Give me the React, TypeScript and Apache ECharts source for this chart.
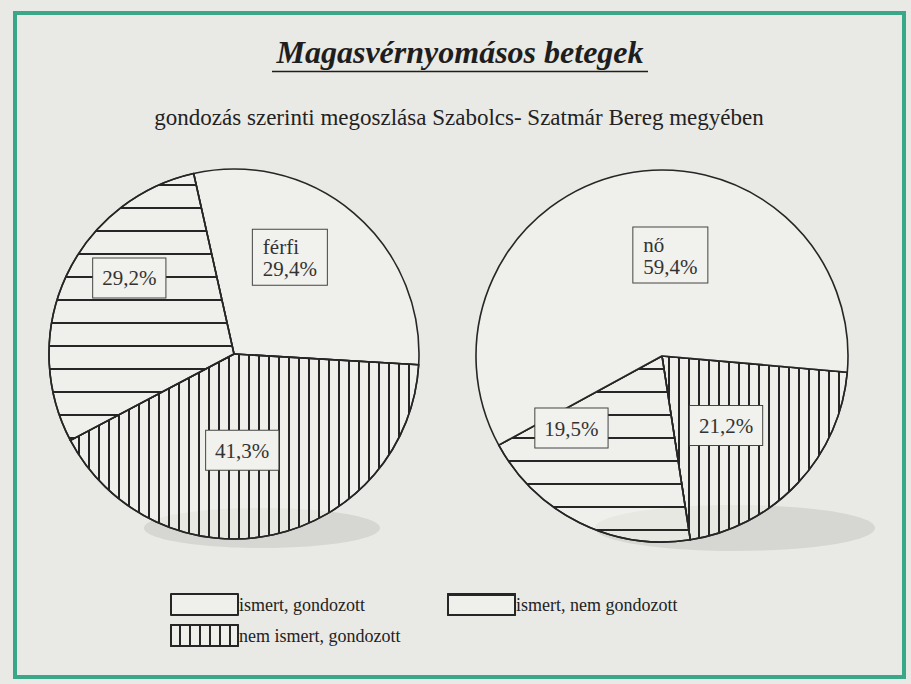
import React, { useEffect, useRef } from 'react';
import * as echarts from 'echarts';

// ---- data ----
const categories = ['ismert, gondozott', 'nem ismert, gondozott', 'ismert, nem gondozott'];
const ferfiValues = [29.4, 41.3, 29.2];
const noValues = [59.4, 21.2, 19.5];
const pieNames = ['férfi', 'nő'];
const titleText = 'Magasvérnyomásos betegek';
const subtitleText = 'gondozás szerinti megoszlása Szabolcs- Szatmár Bereg megyében';

// ---- styles ----
const BG = '#e9e9e5';
const FILL = 'rgba(243,243,239,0.6)';
const INK = '#262626';
const FONT = 'Liberation Serif, DejaVu Serif, serif';

const decals: Record<string, any> = {
  'ismert, gondozott': 'none',
  'nem ismert, gondozott': {
    symbol: 'rect', symbolSize: 1, color: INK,
    dashArrayX: [1, 0], dashArrayY: [1.6, 7.9], rotation: Math.PI / 2,
  },
  'ismert, nem gondozott': {
    symbol: 'rect', symbolSize: 1, color: INK,
    dashArrayX: [1, 0], dashArrayY: [2, 21],
  },
};

const fmt = (v: number) => v.toFixed(1).replace('.', ',') + '%';

// label offsets [series][category index]
const labelOffsets = [
  [[-6, -24], [-12, 3], [-18, -36]],
  [[28, -7], [-6, 4], [-48, -14]],
];

function makeData(values: number[], order: number[], pieName: string) {
  return order.map((i) => {
    const name = categories[i];
    const item: any = {
      name,
      value: values[i],
      itemStyle: { decal: decals[name] },
    };
    if (i === 0) {
      item.label = {
        formatter: `{a|${pieName}}\n{a|${fmt(values[i])}}`,
        padding: [6, 6, 5, 10],
      };
    }
    return item;
  });
}

export default function App() {
  const ref = useRef<HTMLDivElement>(null);
  useEffect(() => {
    document.body.style.margin = '0';
    const chart = echarts.init(ref.current!, null, { renderer: 'svg' });
    const seriesCommon = {
      type: 'pie',
      radius: 185,
      clockwise: true,
      avoidLabelOverlap: false,
      itemStyle: { color: FILL, borderColor: INK, borderWidth: 1.6 },
      emphasis: { disabled: true },
      labelLine: { show: false },
      label: {
        show: true,
        position: 'inside',
        formatter: (p: any) => fmt(p.value),
        fontFamily: FONT,
        fontSize: 21,
        lineHeight: 22,
        color: '#333',
        backgroundColor: '#f1f1ed',
        borderColor: '#444',
        borderWidth: 1,
        padding: [9, 9, 8, 9],
        rich: {
          a: {
            fontFamily: FONT, fontSize: 21, lineHeight: 22, color: '#333',
            width: 58, align: 'left',
          },
        },
      },
    };
    chart.setOption({
      animation: false,
      backgroundColor: BG,
      legend: [
        { data: [categories[0]], left: 165, top: 588 },
        { data: [categories[2]], left: 442, top: 588 },
        { data: [categories[1]], left: 165, top: 619 },
      ].map((l) => ({
        ...l,
        orient: 'horizontal',
        itemWidth: 67,
        itemHeight: 21,
        itemGap: 0,
        icon: 'rect',
        selectedMode: false,
        textStyle: { fontFamily: FONT, fontSize: 18, color: '#222', padding: [10, 0, 0, -4] },
      })),
      series: [
        {
          ...seriesCommon,
          name: pieNames[0],
          center: [234, 354],
          startAngle: 102.6,
          labelLayout: (p: any) => {
            const order = [0, 1, 2];
            const o = labelOffsets[0][order[p.dataIndex]];
            return { dx: o[0], dy: o[1] };
          },
          data: makeData(ferfiValues, [0, 1, 2], pieNames[0]),
        },
        {
          ...seriesCommon,
          name: pieNames[1],
          center: [662, 356],
          radius: 186,
          startAngle: -5,
          labelLayout: (p: any) => {
            const order = [1, 2, 0];
            const o = labelOffsets[1][order[p.dataIndex]];
            return { dx: o[0], dy: o[1] };
          },
          data: makeData(noValues, [1, 2, 0], pieNames[1]),
        },
      ],
      graphic: [
        {
          type: 'ellipse', z: -10, silent: true,
          shape: { cx: 262, cy: 528, rx: 118, ry: 20 },
          style: { fill: '#d6d6d2' },
        },
        {
          type: 'ellipse', z: -10, silent: true,
          shape: { cx: 735, cy: 528, rx: 140, ry: 23 },
          style: { fill: '#d6d6d2' },
        },
        {
          type: 'rect', z: 100, silent: true,
          shape: { x: 15, y: 13, width: 889, height: 664 },
          style: { fill: 'none', stroke: '#3aa888', lineWidth: 4 },
        },
        {
          type: 'text', z: 100, silent: true,
          x: 460, y: 68,
          style: {
            text: titleText, fontFamily: FONT, fontSize: 32, fontWeight: 'bold', fontStyle: 'italic',
            fill: '#1e1e1e', align: 'center', verticalAlign: 'bottom',
          },
        },
        {
          type: 'line', z: 100, silent: true,
          shape: { x1: 272, y1: 71.5, x2: 648, y2: 71.5 },
          style: { stroke: '#1e1e1e', lineWidth: 1.6 },
        },
        {
          type: 'text', z: 100, silent: true,
          x: 459, y: 117,
          style: {
            text: subtitleText, fontFamily: FONT, fontSize: 23,
            fill: '#222', align: 'center', verticalAlign: 'middle',
          },
        },
      ],
    });
    return () => chart.dispose();
  }, []);
  return <div ref={ref} style={{ width: 911, height: 684 }} />;
}
